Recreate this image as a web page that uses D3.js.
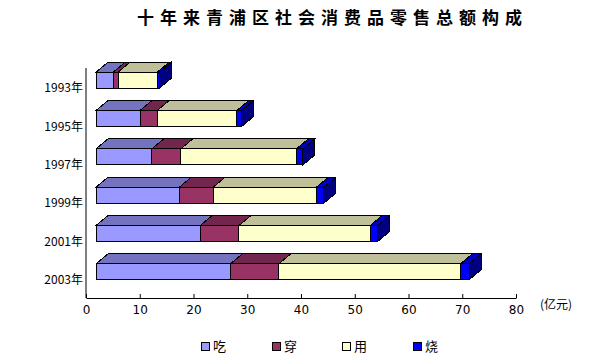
<!DOCTYPE html>
<html>
<head>
<meta charset="utf-8">
<script src="https://cdn.jsdelivr.net/npm/d3@7"></script>
<style>
  body { margin: 0; background: #fff; }
  svg text { font-family: "Noto Sans CJK SC", "DejaVu Sans", sans-serif; }
</style>
</head>
<body>
<svg id="chart" width="598" height="360"></svg>
<script>
// data (亿元)
var years = ["1993年", "1995年", "1997年", "1999年", "2001年", "2003年"];
var keys = ["吃", "穿", "用", "烧"];
var eat  = [3.2, 8.2, 10.4, 15.5, 19.4, 25.0];
var wear = [0.9, 3.2, 5.4, 6.3, 7.2, 9.0];
var use  = [7.3, 14.8, 21.5, 19.2, 24.4, 33.8];
var burn = [0.4, 0.9, 1.2, 1.4, 1.4, 1.6];
var xTicks = [0, 10, 20, 30, 40, 50, 60, 70, 80];

var frontColors = ["#9999ff", "#993366", "#ffffcc", "#0000ff"];
var topColors   = ["#7373bf", "#73264d", "#bfbf99", "#0000bf"];
var sideColor   = "#000080";

var rows = years.map(function (y, i) {
  return { year: y, "吃": eat[i], "穿": wear[i], "用": use[i], "烧": burn[i] };
});
var series = d3.stack().keys(keys)(rows);

var svg = d3.select("#chart");
var x = d3.scaleLinear().domain([0, 80]).range([86, 516]);
var y = d3.scaleBand().domain(years).range([68, 298]);

var dx = 12, dy = 10, off = 10, barH = 16;

// title
svg.append("text")
  .attr("x", 137).attr("y", 24)
  .style("font-size", "17px").style("font-weight", "bold")
  .style("letter-spacing", "6px")
  .text("十年来青浦区社会消费品零售总额构成");

// axes
svg.append("line").attr("x1", 86).attr("x2", 86).attr("y1", 68).attr("y2", 298)
  .attr("stroke", "#000");

var xAxis = svg.append("g")
  .attr("transform", "translate(0,298)")
  .call(d3.axisBottom(x).tickValues(xTicks).tickSizeInner(-4).tickSizeOuter(0).tickPadding(7));
xAxis.select(".domain").attr("stroke", "#000");
xAxis.selectAll("text").style("font-size", "12px").attr("fill", "#000")
  .style("font-family", "\"DejaVu Sans\", sans-serif");

svg.append("text").attr("x", 540).attr("y", 309)
  .style("font-size", "12px").text("(亿元)");

svg.append("g").selectAll("text")
  .data(years).enter().append("text")
  .attr("x", 83)
  .attr("y", function (d) { return y(d) + y.bandwidth() / 2 + 1; })
  .attr("dy", "0.35em")
  .attr("text-anchor", "end")
  .style("font-size", "12px")
  .text(function (d) { return d; });

// 3d bars
var bars = svg.append("g").attr("shape-rendering", "crispEdges");

function poly(pts) { return "M" + pts.map(function (p) { return p.join(","); }).join("L") + "Z"; }

rows.forEach(function (row, ri) {
  var yb = y(row.year) + y.bandwidth() / 2 + 1;
  var yt = yb - barH;
  var g = bars.append("g");
  series.forEach(function (s, si) {
    var x0 = x(s[ri][0]) + off, x1 = x(s[ri][1]) + off;
    g.append("path")
      .attr("d", poly([[x0, yt], [x1, yt], [x1 + dx, yt - dy], [x0 + dx, yt - dy]]))
      .attr("fill", topColors[si]).attr("stroke", "#000");
  });
  series.forEach(function (s, si) {
    var x0 = x(s[ri][0]) + off, x1 = x(s[ri][1]) + off;
    g.append("rect")
      .attr("x", x0).attr("y", yt)
      .attr("width", x1 - x0).attr("height", barH)
      .attr("fill", frontColors[si]).attr("stroke", "#000");
  });
  var xe = x(series[series.length - 1][ri][1]) + off;
  g.append("path")
    .attr("d", poly([[xe, yt], [xe + dx, yt - dy], [xe + dx, yb - dy], [xe, yb]]))
    .attr("fill", sideColor).attr("stroke", "#000");
});

// legend
var legendX = [201, 272, 342, 413];
var legend = svg.append("g").selectAll("g")
  .data(keys).enter().append("g")
  .attr("transform", function (d, i) { return "translate(" + legendX[i] + ",342)"; });
legend.append("rect")
  .attr("width", 8).attr("height", 8)
  .attr("fill", function (d, i) { return frontColors[i]; })
  .attr("stroke", "#000").attr("shape-rendering", "crispEdges");
legend.append("text")
  .attr("x", 12).attr("y", 4).attr("dy", "0.38em")
  .style("font-size", "13px")
  .text(function (d) { return d; });
</script>
</body>
</html>
